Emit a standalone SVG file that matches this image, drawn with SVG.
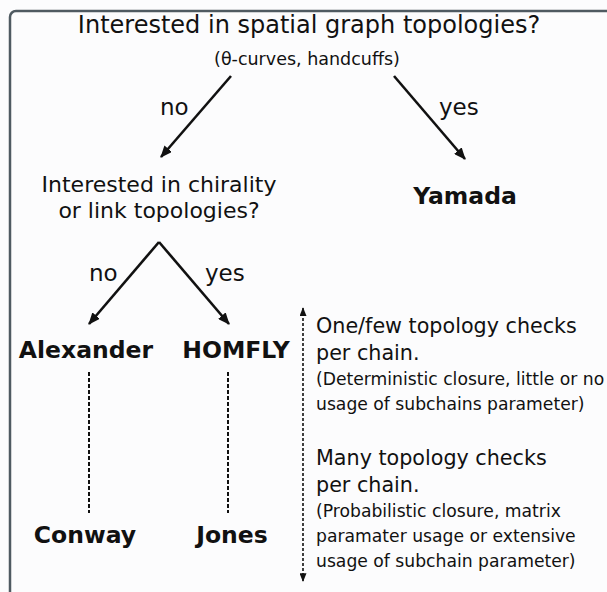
<svg xmlns="http://www.w3.org/2000/svg" width="607" height="592" viewBox="0 0 607 592">
<style>
text{font-family:"DejaVu Sans","Bitstream Vera Sans",sans-serif;fill:#111}
.q{font-size:22px}
.t{font-size:24px}
.s{font-size:17.5px}
.lab{font-size:23px}
.b{font-size:23.5px;font-weight:bold}
.r{font-size:20.7px}
.rs{font-size:17.2px}
.arr{stroke:#111;stroke-width:2.6;fill:none}
.dash{stroke:#111;stroke-width:2;stroke-dasharray:4 2;fill:none}
.vd{stroke:#111;stroke-width:1.6;stroke-dasharray:3 2;fill:none}
</style>
<defs>
<marker id="ah" viewBox="0 0 12 10" refX="11" refY="5" markerWidth="12" markerHeight="10" markerUnits="userSpaceOnUse" orient="auto">
<path d="M0,0 L12,5 L0,10 Z" fill="#111"/>
</marker>
<marker id="ah2" viewBox="0 0 10 8" refX="9" refY="4" markerWidth="9" markerHeight="7" markerUnits="userSpaceOnUse" orient="auto-start-reverse">
<path d="M0,0 L10,4 L0,8 Z" fill="#111"/>
</marker>
</defs>
<rect x="0" y="0" width="607" height="592" fill="#fcfcfd"/>
<rect x="10" y="11" width="700" height="700" rx="6" fill="none" stroke="#4f5a61" stroke-width="2.5"/>
<g id="q1">
<text class="t" x="309" y="33" text-anchor="middle">Interested in spatial graph topologies?</text>
<text class="s" x="307" y="65" text-anchor="middle">(θ-curves, handcuffs)</text>
</g>
<g id="q2">
<text class="q" x="159" y="192" text-anchor="middle">Interested in chirality</text>
<text class="q" x="159" y="218" text-anchor="middle">or link topologies?</text>
</g>
<g id="yamada"><text class="b" x="465" y="204" text-anchor="middle">Yamada</text></g>
<g id="alexander"><text class="b" x="86" y="358" text-anchor="middle">Alexander</text></g>
<g id="homfly"><text class="b" x="236" y="358" text-anchor="middle">HOMFLY</text></g>
<g id="conway"><text class="b" x="85" y="543" text-anchor="middle">Conway</text></g>
<g id="jones"><text class="b" x="232" y="543" text-anchor="middle">Jones</text></g>
<g id="notes">
<text class="r" x="316" y="333">One/few topology checks</text>
<text class="r" x="316" y="360">per chain.</text>
<text class="rs" x="316" y="385">(Deterministic closure, little or no</text>
<text class="rs" x="316" y="410">usage of subchains parameter)</text>
<text class="r" x="316" y="465">Many topology checks</text>
<text class="r" x="316" y="492">per chain.</text>
<text class="rs" x="316" y="517">(Probabilistic closure, matrix</text>
<text class="rs" x="316" y="542">paramater usage or extensive</text>
<text class="rs" x="316" y="567">usage of subchain parameter)</text>
</g>
<g id="connectors">
<line class="arr" x1="231" y1="76" x2="161" y2="157" marker-end="url(#ah)"/>
<line class="arr" x1="394" y1="76" x2="465" y2="159" marker-end="url(#ah)"/>
<line class="arr" x1="159" y1="242" x2="89" y2="324" marker-end="url(#ah)"/>
<line class="arr" x1="159" y1="242" x2="229" y2="324" marker-end="url(#ah)"/>
<line class="dash" x1="89" y1="372" x2="89" y2="513"/>
<line class="dash" x1="228" y1="372" x2="228" y2="513"/>
<line class="vd" x1="303" y1="308" x2="303" y2="581" marker-start="url(#ah2)" marker-end="url(#ah2)"/>
<text class="lab" x="160" y="115">no</text>
<text class="lab" x="439" y="115">yes</text>
<text class="lab" x="89" y="281">no</text>
<text class="lab" x="205" y="281">yes</text>
</g>
</svg>
